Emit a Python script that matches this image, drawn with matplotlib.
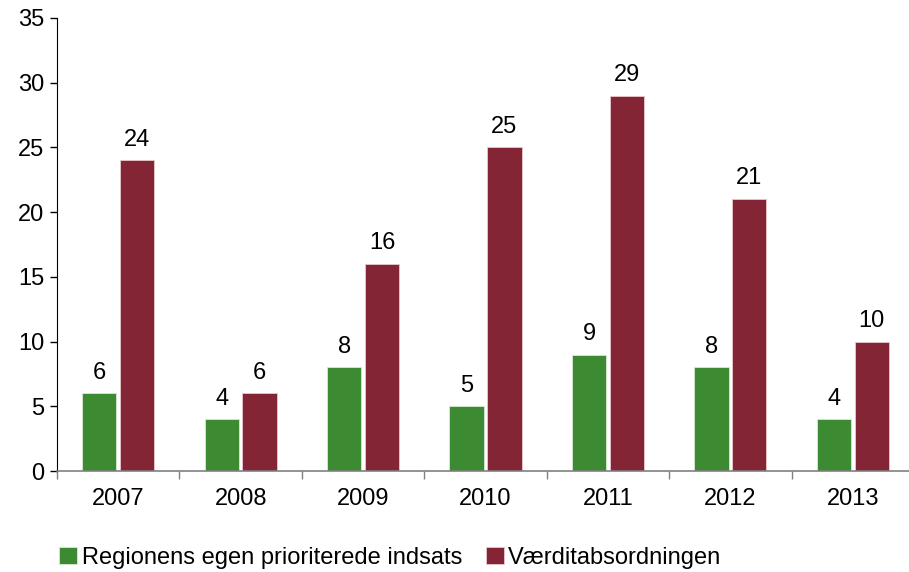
import numpy as np
import matplotlib.pyplot as plt

plt.rcParams['font.family'] = ['Liberation Sans', 'DejaVu Sans']

years = ["2007", "2008", "2009", "2010", "2011", "2012", "2013"]
regionens = [6, 4, 8, 5, 9, 8, 4]
vaerdi = [24, 6, 16, 25, 29, 21, 10]
series_names = ["Regionens egen prioriterede indsats", "Værditabsordningen"]

green = "#3c8a31"
maroon = "#842535"
fs = 17

fig = plt.figure(figsize=(9.09, 5.72), dpi=100)
ax = fig.add_axes([57 / 909, 1 - 471 / 572, (914 - 57) / 909, (471 - 18) / 572])

x = np.arange(len(years))
w = 0.28
off = 0.155
b1 = ax.bar(x - off, regionens, w, color=green, edgecolor="#d8ead4", linewidth=0.6, label=series_names[0])
b2 = ax.bar(x + off, vaerdi, w, color=maroon, edgecolor="#e8c8cc", linewidth=0.6, label=series_names[1])

for bars, vals in [(b1, regionens), (b2, vaerdi)]:
    for rect, v in zip(bars, vals):
        ax.annotate(str(v), (rect.get_x() + rect.get_width() / 2, v),
                    xytext=(0, 7), textcoords="offset points",
                    ha="center", va="bottom", fontsize=fs)

ax.set_xlim(-0.5, len(years) - 0.5)
ax.set_ylim(0, 35)
ax.set_yticks(range(0, 36, 5))
ax.tick_params(axis="y", labelsize=fs, length=5, width=1, color="black", direction="out", pad=4)

ax.set_xticks(x)
ax.set_xticklabels(years, fontsize=fs)
ax.set_xticks(np.arange(-0.5, len(years), 1), minor=True)
ax.tick_params(axis="x", which="major", length=0, pad=12)
ax.tick_params(axis="x", which="minor", length=6, width=1, color="#808080")

ax.spines["top"].set_visible(False)
ax.spines["right"].set_visible(False)
ax.spines["left"].set_color("black")
ax.spines["bottom"].set_color("#808080")
ax.spines["bottom"].set_linewidth(1.2)

fig.legend(loc="lower left", bbox_to_anchor=(0.042, -0.032), ncol=2, frameon=False,
           fontsize=fs, handlelength=0.75, handleheight=0.75, handletextpad=0.2,
           columnspacing=1.0)

fig.savefig("out.png", dpi=100)
